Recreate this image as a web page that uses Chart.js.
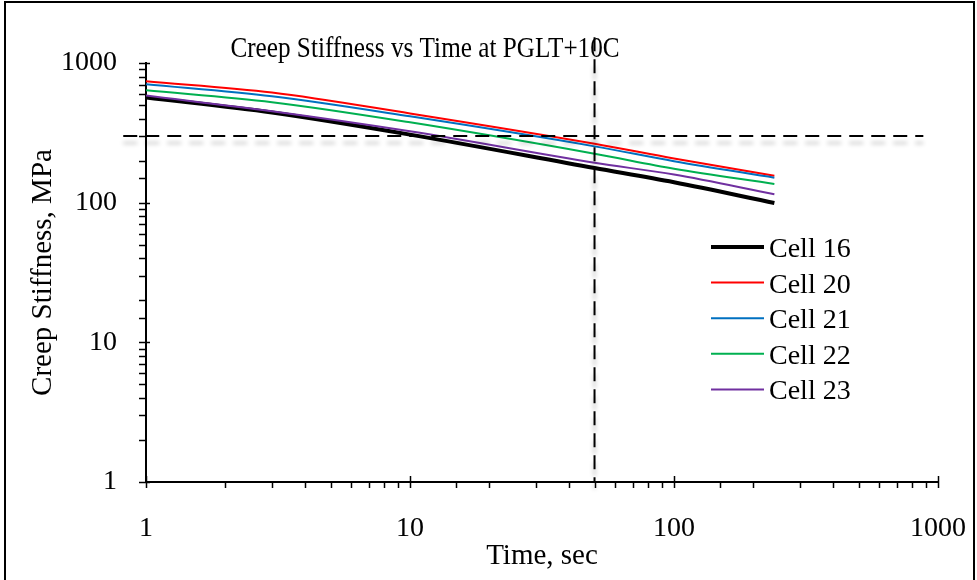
<!DOCTYPE html>
<html>
<head>
<meta charset="utf-8">
<script src="https://cdn.jsdelivr.net/npm/chart.js@4"></script>
<style>
  body { margin: 0; background: #fff; }
  #wrap { position: relative; width: 977px; height: 580px; }
</style>
</head>
<body>
<div id="wrap"><canvas id="creepChart" width="977" height="580"></canvas></div>
<script>
// Loading times (sec) and creep stiffness (MPa)
const times = [1, 3, 10, 50, 100, 240];
const cell16 = [566, 442, 307, 177, 140, 99.5];
const cell20 = [741, 615, 435, 264, 207, 156];
const cell21 = [705, 578, 415, 253, 198, 151];
const cell22 = [638, 524, 376, 224, 175, 136];
const cell23 = [585, 451, 324, 193, 159, 115];

const seriesLabels = ['Cell 16', 'Cell 20', 'Cell 21', 'Cell 22', 'Cell 23'];
const seriesColors = ['#000000', '#ff0000', '#0070c0', '#00b050', '#7030a0'];
const seriesWidths = [4, 2, 2, 2, 2];

// limit lines: 300 MPa stiffness and 50 s loading time
const limitStiffness = 300;
const limitTimeRange = [0.82, 880];
const limitTime = 50;
const limitStiffRange = [1530, 1];

const axisTicks = [1, 10, 100, 1000];

const serif = '"Liberation Serif", "Times New Roman", serif';

function toPoints(xs, ys) {
    return xs.map((x, i) => ({ x: x, y: ys[i] }));
}

const seriesValues = [cell16, cell20, cell21, cell22, cell23];

const datasets = seriesValues.map((vals, i) => ({
    label: seriesLabels[i],
    data: toPoints(times, vals),
    borderColor: seriesColors[i],
    backgroundColor: seriesColors[i],
    borderWidth: seriesWidths[i],
    pointRadius: 0,
    cubicInterpolationMode: 'monotone',
    order: 10 - i
}));

// dashed limit lines with a soft grey shadow
datasets.push({
    label: 'limitH',
    data: limitTimeRange.map(t => ({ x: t, y: limitStiffness })),
    borderColor: '#000',
    borderWidth: 2,
    borderDash: [14, 8],
    pointRadius: 0,
    clip: false,
    shadow: true,
    order: 1
});
datasets.push({
    label: 'limitV',
    data: limitStiffRange.map(s => ({ x: limitTime, y: s })),
    borderColor: '#000',
    borderWidth: 2,
    borderDash: [14, 8],
    pointRadius: 0,
    clip: false,
    shadow: true,
    order: 0
});

const shadowPlugin = {
    id: 'shadowPlugin',
    beforeDatasetDraw(chart, args) {
        if (!args.meta._dataset.shadow) return;
        const ctx = chart.ctx;
        ctx.save();
        ctx.shadowColor = 'rgba(0,0,0,0.25)';
        ctx.shadowBlur = 4;
        ctx.shadowOffsetX = 0;
        ctx.shadowOffsetY = 7;
    },
    afterDatasetDraw(chart, args) {
        if (!args.meta._dataset.shadow) return;
        chart.ctx.restore();
    }
};

const decorPlugin = {
    id: 'decorPlugin',
    afterDraw(chart) {
        const ctx = chart.ctx;
        const area = chart.chartArea;
        const xs = chart.scales.x;
        const ys = chart.scales.y;
        ctx.save();
        ctx.strokeStyle = '#000';
        ctx.lineWidth = 1.5;
        // tick marks: majors cross the axis, minors point outward
        xs.ticks.forEach(t => {
            const px = Math.round(xs.getPixelForValue(t.value)) + 0.5;
            const major = Number.isInteger(Math.log10(t.value));
            ctx.beginPath();
            ctx.moveTo(px, area.bottom - (major ? 6 : 0));
            ctx.lineTo(px, area.bottom + 6);
            ctx.stroke();
        });
        ys.ticks.forEach(t => {
            const py = Math.round(ys.getPixelForValue(t.value)) + 0.5;
            const major = Number.isInteger(Math.log10(t.value));
            ctx.beginPath();
            ctx.moveTo(area.left - 7, py);
            ctx.lineTo(area.left + (major ? 4 : 0), py);
            ctx.stroke();
        });

        // title (slightly condensed like the original)
        ctx.fillStyle = '#000';
        ctx.font = '30px ' + serif;
        ctx.textAlign = 'center';
        ctx.textBaseline = 'alphabetic';
        ctx.save();
        ctx.translate(425, 57);
        ctx.scale(0.84, 1);
        ctx.fillText('Creep Stiffness vs Time at PGLT+10C', 0, 0);
        ctx.restore();

        // legend inside the plot
        ctx.font = '28px ' + serif;
        ctx.textAlign = 'left';
        seriesLabels.forEach((lab, i) => {
            const y = 247 + i * 35.6;
            ctx.strokeStyle = seriesColors[i];
            ctx.lineWidth = seriesWidths[i];
            ctx.beginPath();
            ctx.moveTo(711, y);
            ctx.lineTo(764, y);
            ctx.stroke();
            ctx.fillText(lab, 769, y + 10);
        });

        // outer frame
        ctx.strokeStyle = '#000';
        ctx.lineWidth = 2;
        ctx.strokeRect(5, 2, 969, 700);
        ctx.restore();
    }
};

const powerLabel = (v) => axisTicks.includes(v) ? String(v) : '';

new Chart(document.getElementById('creepChart').getContext('2d'), {
    type: 'line',
    data: { datasets: datasets },
    options: {
        responsive: false,
        animation: false,
        devicePixelRatio: 1,
        layout: { padding: { left: 22, top: 63, right: 39, bottom: 0 } },
        plugins: {
            legend: { display: false },
            tooltip: { enabled: false },
            title: { display: false }
        },
        scales: {
            x: {
                type: 'logarithmic',
                min: 1,
                max: 1000,
                grid: { display: false },
                border: { display: true, color: '#000', width: 2 },
                ticks: {
                    callback: powerLabel,
                    autoSkip: false,
                    maxRotation: 0,
                    color: '#000',
                    padding: 22,
                    font: { family: serif, size: 28 }
                },
                title: {
                    display: true,
                    text: 'Time, sec',
                    color: '#000',
                    font: { family: serif, size: 29 },
                    padding: { top: 4, bottom: 6 }
                },
                afterFit(scale) {
                    scale.height = 98;
                    scale.paddingLeft = 0;
                    scale.paddingRight = 0;
                }
            },
            y: {
                type: 'logarithmic',
                min: 1,
                max: 1000,
                grid: { display: false },
                border: { display: true, color: '#000', width: 2 },
                ticks: {
                    callback: powerLabel,
                    autoSkip: false,
                    color: '#000',
                    padding: 21,
                    font: { family: serif, size: 28 }
                },
                title: {
                    display: true,
                    text: 'Creep Stiffness, MPa',
                    color: '#000',
                    font: { family: serif, size: 29 },
                    padding: { top: 4, bottom: 4 }
                },
                afterFit(scale) {
                    scale.width = 124;
                    scale.paddingTop = 0;
                    scale.paddingBottom = 0;
                }
            }
        }
    },
    plugins: [shadowPlugin, decorPlugin]
});
</script>
</body>
</html>
